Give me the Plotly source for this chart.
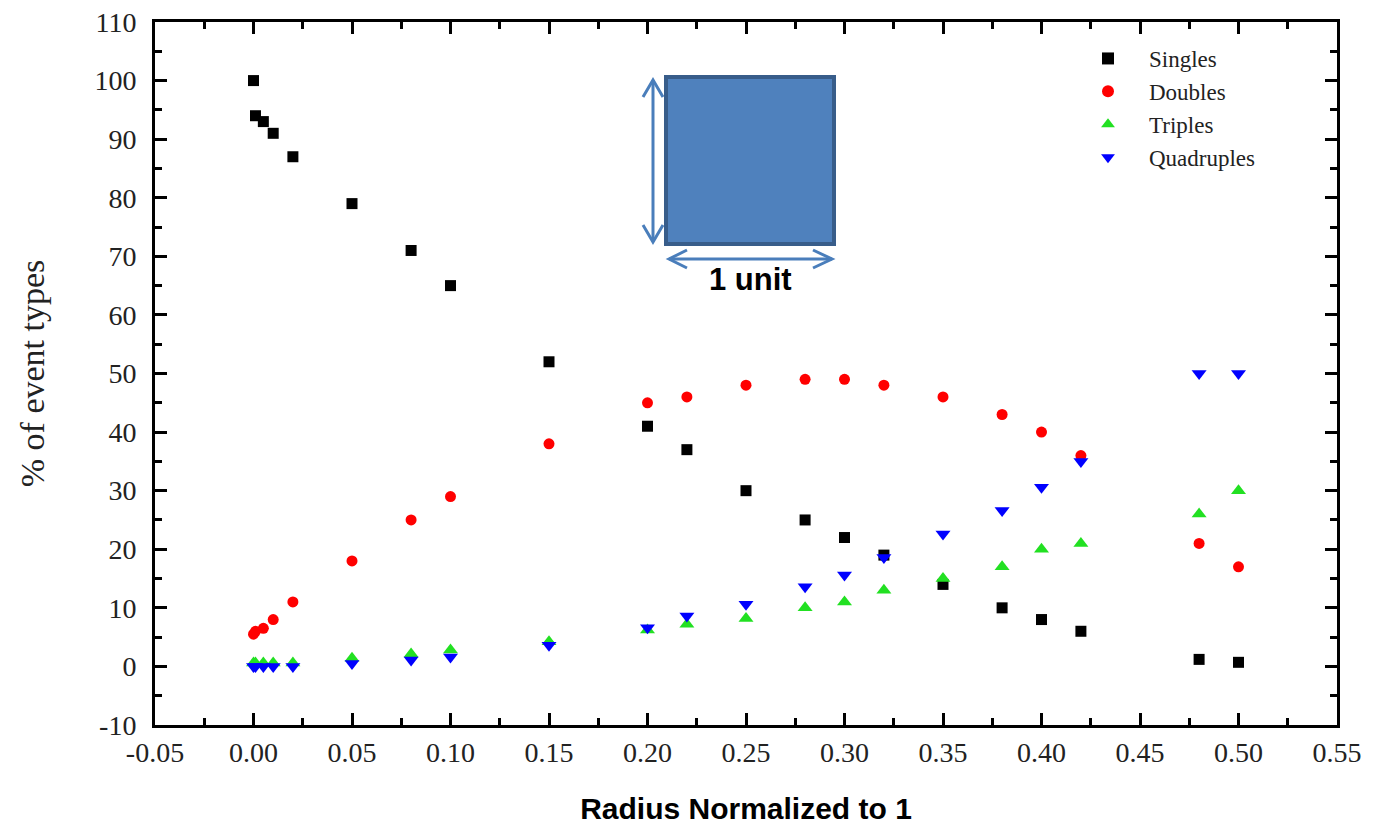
import plotly.graph_objects as go

# ---- data ----
radius = [0.0, 0.001, 0.005, 0.01, 0.02, 0.05, 0.08, 0.10, 0.15, 0.20, 0.22, 0.25,
          0.28, 0.30, 0.32, 0.35, 0.38, 0.40, 0.42, 0.48, 0.50]
singles = [100, 94, 93, 91, 87, 79, 71, 65, 52, 41, 37, 30, 25, 22, 19, 14, 10, 8, 6, 1.2, 0.7]
doubles = [5.5, 6, 6.5, 8, 11, 18, 25, 29, 38, 45, 46, 48, 49, 49, 48, 46, 43, 40, 36, 21, 17]
triples = [0.6, 0.6, 0.6, 0.6, 0.6, 1.4, 2.1, 2.8, 4.2, 6.2, 7.2, 8.2, 10, 11, 13, 15, 17, 20, 21, 26, 30]
quadruples = [0, 0, 0, 0, 0, 0.5, 1.1, 1.6, 3.6, 6.6, 8.6, 10.6, 13.6, 15.6, 18.6, 22.6, 26.6, 30.6, 35, 50, 50]

x_tickvals = [-0.05, 0.00, 0.05, 0.10, 0.15, 0.20, 0.25, 0.30, 0.35, 0.40, 0.45, 0.50, 0.55]
x_ticktext = ["-0.05", "0.00", "0.05", "0.10", "0.15", "0.20", "0.25", "0.30", "0.35",
              "0.40", "0.45", "0.50", "0.55"]
y_tickvals = [-10, 0, 10, 20, 30, 40, 50, 60, 70, 80, 90, 100, 110]
y_ticktext = ["-10", "0", "10", "20", "30", "40", "50", "60", "70", "80", "90", "100", "110"]

series = [
    ("Singles", singles, "square", "#000000", 11),
    ("Doubles", doubles, "circle", "#ff0000", 11),
    ("Triples", triples, "triangle-up", "#22e022", 13),
    ("Quadruples", quadruples, "triangle-down", "#0000ff", 13),
]

fig = go.Figure()
for name, vals, sym, col, sz in series:
    fig.add_trace(go.Scatter(x=radius, y=vals, mode="markers", name=name,
                             marker=dict(symbol=sym, color=col, size=sz, line=dict(width=0))))

# plot area in pixels
L, R, T, B = 155, 1337, 22, 725
W, H = 1377, 826


def px(x):
    return (x - L) / (R - L)


def py(y):
    return (B - y) / (B - T)


axis_common = dict(showgrid=False, zeroline=False, showline=True, linecolor="black",
                   linewidth=3, mirror="ticks", ticks="inside", ticklen=12, tickwidth=3,
                   tickcolor="black", automargin=False,
                   tickfont=dict(family="Liberation Serif", size=28, color="#222222"))

fig.update_xaxes(range=[-0.05, 0.55], tickvals=x_tickvals, ticktext=x_ticktext,
                 minor=dict(ticks="inside", ticklen=7, tickwidth=3, dtick=0.025,
                            tick0=0, tickcolor="black", showgrid=False),
                 title=dict(text="<b>Radius Normalized to 1</b>",
                            font=dict(family="Liberation Sans", size=30, color="black"),
                            standoff=32),
                 **axis_common)
fig.update_yaxes(range=[-10, 110], tickvals=y_tickvals, ticktext=y_ticktext,
                 minor=dict(ticks="inside", ticklen=7, tickwidth=3, dtick=5, tick0=0,
                            tickcolor="black", showgrid=False),
                 ticklabelstandoff=10,
                 title=dict(text="% of event types",
                            font=dict(family="Liberation Serif", size=34, color="#222222"),
                            standoff=40),
                 **axis_common)

# inset: square with dimension arrows
shapes = [dict(type="rect", xref="paper", yref="paper",
               x0=px(666), x1=px(834), y0=py(244), y1=py(77),
               fillcolor="#4f81bd", line=dict(color="#385d8a", width=4))]
arrow_col = "#4a7ebb"
paths = [
    # vertical arrow
    [(653, 80), (653, 242)],
    [(643, 97), (653, 80), (663, 97)],
    [(643, 225), (653, 242), (663, 225)],
    # horizontal arrow
    [(669, 259), (832, 259)],
    [(687, 250), (669, 259), (687, 268)],
    [(813, 250), (832, 259), (813, 268)],
]
for pts in paths:
    d = "M " + " L ".join(f"{px(a):.5f},{py(b):.5f}" for a, b in pts)
    shapes.append(dict(type="path", xref="paper", yref="paper", path=d,
                       line=dict(color=arrow_col, width=3)))

fig.update_layout(
    width=W, height=H,
    margin=dict(l=L, r=W - R, t=T, b=H - B),
    paper_bgcolor="white", plot_bgcolor="white",
    shapes=shapes,
    annotations=[dict(text="<b>1 unit</b>", xref="paper", yref="paper",
                      x=px(750), y=py(279), xanchor="center", yanchor="middle",
                      showarrow=False,
                      font=dict(family="Liberation Sans", size=31, color="black"))],
    legend=dict(x=px(1067), y=py(37), xanchor="left", yanchor="top",
                bgcolor="rgba(0,0,0,0)", borderwidth=0,
                font=dict(family="Liberation Serif", size=23, color="#222222"),
                itemsizing="constant", itemwidth=72, tracegroupgap=0),
    showlegend=True,
)

fig.write_html("out.html")
